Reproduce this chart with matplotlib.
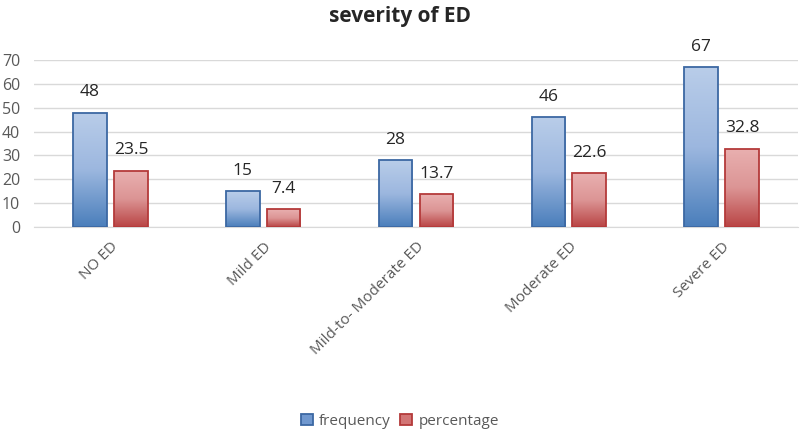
import numpy as np
import matplotlib.pyplot as plt
from matplotlib.colors import LinearSegmentedColormap

categories = ["NO ED", "Mild ED", "Mild-to- Moderate ED", "Moderate ED", "Severe ED"]
frequency = [48, 15, 28, 46, 67]
percentage = [23.5, 7.4, 13.7, 22.6, 32.8]

plt.rcParams['font.family'] = ['Open Sans', 'DejaVu Sans']
text_col = '#595959'

fig = plt.figure(figsize=(8, 4.32), dpi=100)
ax = fig.add_axes([0.0425, 0.4745, 0.955, 0.3865])

x = np.arange(len(categories))
w = 0.22
off = 0.134

blue_cmap = LinearSegmentedColormap.from_list('b', ['#4a7ebb', '#9cb7df', '#b9cde9'])
red_cmap = LinearSegmentedColormap.from_list('r', ['#b94444', '#dc9595', '#e9b0b0'])

grad = np.linspace(0, 1, 256).reshape(-1, 1)


def gradient_bars(xs, vals, cmap, edge):
    bars = ax.bar(xs, vals, w, facecolor='none', edgecolor=edge, linewidth=1.3, zorder=3)
    for b in bars:
        x0, y0 = b.get_x(), b.get_y()
        im = ax.imshow(grad, cmap=cmap, origin='lower', aspect='auto',
                       extent=[x0, x0 + b.get_width(), y0, y0 + b.get_height()], zorder=2)
        im.set_clip_path(b)
    return bars


b1 = gradient_bars(x - off, frequency, blue_cmap, '#3c68a3')
b2 = gradient_bars(x + off, percentage, red_cmap, '#b43a3a')

for xi, v in zip(x - off, frequency):
    ax.annotate(f"{v}", (xi, v), xytext=(0, 9), textcoords='offset points',
                ha='center', va='bottom', fontsize=12.5, color='#262626')
for xi, v in zip(x + off, percentage):
    ax.annotate(f"{v}", (xi, v), xytext=(0, 9), textcoords='offset points',
                ha='center', va='bottom', fontsize=12.5, color='#262626')

ax.set_xlim(-0.5, len(categories) - 0.5)
ax.set_ylim(0, 70)
ax.set_yticks(range(0, 71, 10))
ax.grid(axis='y', color='#d9d9d9', linewidth=1, zorder=0)
ax.set_axisbelow(True)
for s in ['top', 'right', 'left']:
    ax.spines[s].set_visible(False)
ax.spines['bottom'].set_color('#d9d9d9')
ax.tick_params(axis='both', length=0, colors=text_col, labelsize=11)
ax.tick_params(axis='y', pad=10, labelsize=11.5)
ax.set_xticks(x)
ax.set_xticklabels(categories, rotation=45, ha='right', rotation_mode='anchor')
ax.tick_params(axis='x', pad=9)

fig.text(0.5, 0.962, "severity of ED", ha='center', va='center', fontsize=15,
         fontweight='bold', color='#262626')

leg = fig.legend([b1[0], b2[0]], ["frequency", "percentage"], loc='center',
                 bbox_to_anchor=(0.5, 0.025), ncol=2, frameon=False, fontsize=11,
                 handlelength=0.8, handleheight=0.8, columnspacing=0.6, handletextpad=0.4)
leg.legend_handles[0].set_facecolor('#7098cf')
leg.legend_handles[1].set_facecolor('#d27575')
for t in leg.get_texts():
    t.set_color(text_col)

fig.savefig('out.png', dpi=100)
